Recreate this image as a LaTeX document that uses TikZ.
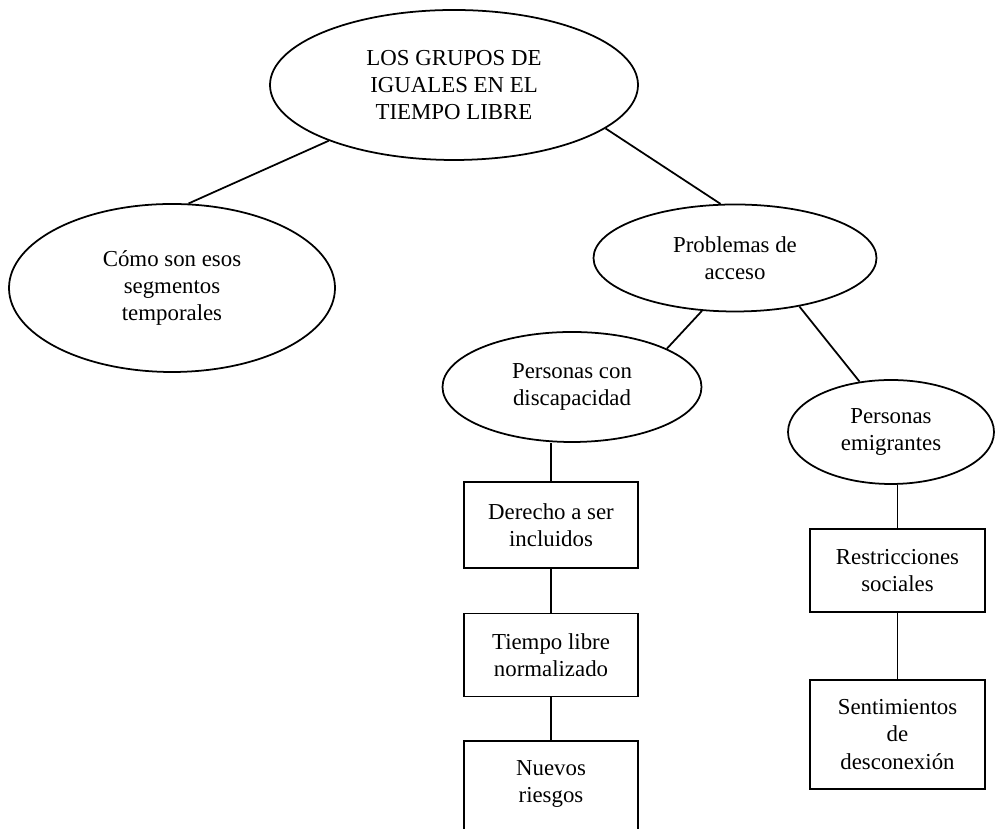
\documentclass[tikz,border=0pt]{standalone}
\usepackage{fontspec}
\setmainfont{Liberation Serif}
\usepackage{tikz}
\usetikzlibrary{shapes.geometric,positioning}

\begin{document}
\begin{tikzpicture}[font=\fontsize{13}{15.6}\selectfont,
	elipse/.style={draw,ellipse,line width=1pt,align=center,inner sep=0pt},
	caja/.style={draw,rectangle,line width=1pt,align=center,inner sep=0pt,
		minimum width=3.48cm},
	linea/.style={line width=1pt}]
				\useasboundingbox (0,0) rectangle (19.92,16.58);
				\node[elipse,minimum width=7.36cm,minimum height=3.0cm]
				(G) at (9.08,14.88){LOS GRUPOS DE\\IGUALES EN EL\\TIEMPO LIBRE};
				\node[elipse,minimum width=6.52cm,minimum height=3.36cm]
				(C) at (3.44,10.82){Cómo son esos\\segmentos\\temporales};
				\node[elipse,minimum width=5.66cm,minimum height=2.14cm]
				(P) at (14.70,11.42){Problemas de\\acceso};
				\node[elipse,minimum width=5.18cm,minimum height=2.2cm]
				(D) at (11.44,8.84){Personas con\\discapacidad};
				\node[elipse,minimum width=4.12cm,minimum height=2.08cm]
				(E) at (17.82,7.94){Personas\\emigrantes};
				\node[caja,minimum height=1.72cm]
				(B1) at (11.02,6.08){Derecho a ser\\incluidos};
				\node[caja,minimum height=1.66cm]
				(B2) at (11.02,3.48){Tiempo libre\\normalizado};
				\node[caja,minimum height=2.16cm]
				(B3) at (11.02,0.68){Nuevos\\riesgos\\~};
				\node[caja,minimum width=3.5cm,minimum height=1.66cm]
				(R1) at (17.95,5.17){Restricciones\\sociales};
				\node[caja,minimum width=3.5cm,minimum height=2.18cm]
				(R2) at (17.95,1.89){Sentimientos\\de\\desconexión};
				\draw[linea](G.204)--(C.79);
				\draw[linea](G.344)--(P.105);
				\draw[linea](P.238)--(D.22);
				\draw[linea](P.323)--(E.122);
				\draw[linea](B1.north |- D.south)--(B1.north);
				\draw[linea](B1)--(B2);
				\draw[linea](B2)--(B3);
				\draw[linea](R1.north |- E.south)--(R1.north);
				\draw[linea](R1)--(R2);
			\end{tikzpicture}
\end{document}
